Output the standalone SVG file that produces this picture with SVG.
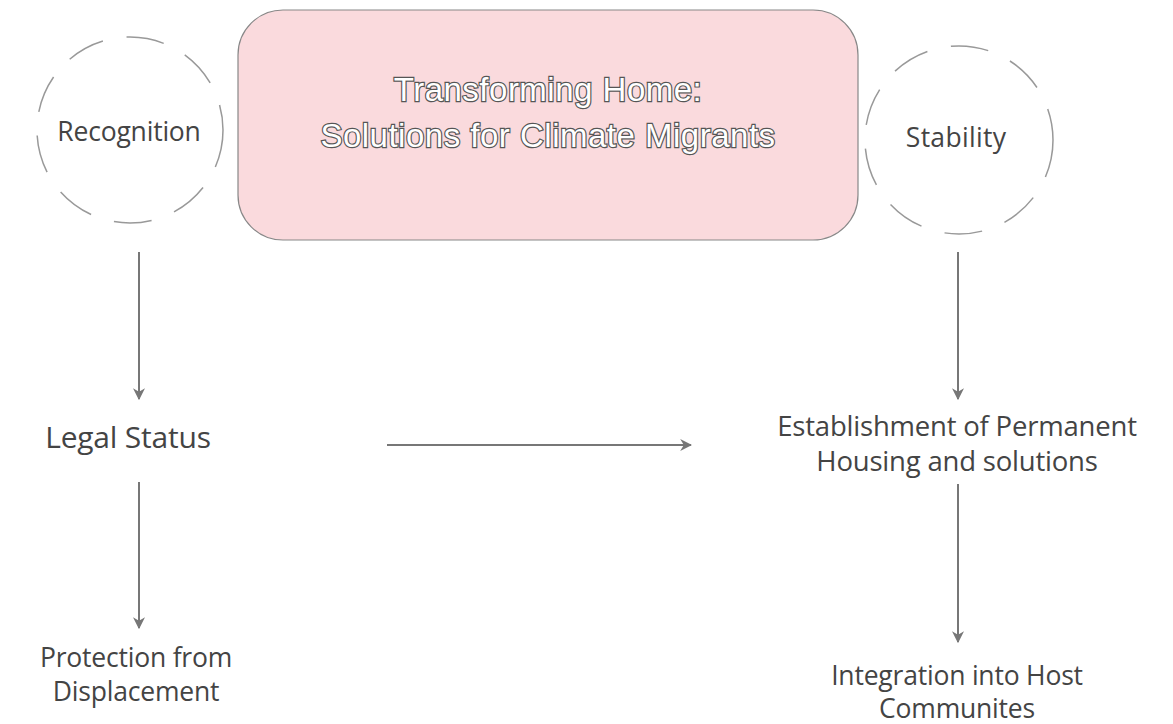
<svg xmlns="http://www.w3.org/2000/svg" width="1173" height="724" viewBox="0 0 1173 724">
<style>
.lbl{font-family:"Open Sans","Liberation Sans",sans-serif;font-size:26.5px;fill:#444;text-anchor:middle;letter-spacing:-0.2px}
.ring{fill:none;stroke:#999;stroke-width:1.5;stroke-dasharray:38 24}
.conn{stroke:#777;stroke-width:2;fill:none;marker-end:url(#ah)}
.title{font-family:"Liberation Sans",sans-serif;font-size:33px;fill:#fff;stroke:#555;stroke-width:2.4;paint-order:stroke fill;text-anchor:middle;letter-spacing:0.5px}
</style>
<defs>
<marker id="ah" viewBox="0 0 10 10" refX="9" refY="5" markerWidth="6" markerHeight="6" orient="auto" markerUnits="strokeWidth">
<path d="M0,0 L10,5 L0,10 L3,5 Z" fill="#777"/>
</marker>
</defs>
<rect width="1173" height="724" fill="#fff"/>
<g id="title-node">
<rect x="238" y="10" width="620" height="230" rx="45" fill="#fadadd" stroke="#888" stroke-width="1.2"/>
<text class="title" x="548" y="101">Transforming Home:</text>
<text class="title" x="548" y="147">Solutions for Climate Migrants</text>
</g>
<g id="recognition">
<circle class="ring" cx="130" cy="130" r="93"/>
<text class="lbl" x="129" y="141">Recognition</text>
</g>
<g id="stability">
<circle class="ring" cx="959" cy="140" r="94"/>
<text class="lbl" x="956" y="147" style="letter-spacing:0.3px">Stability</text>
</g>
<g id="legal-status">
<text class="lbl" x="128" y="448" style="font-size:30px">Legal Status</text>
</g>
<g id="protection">
<text class="lbl" x="136" y="667">Protection from</text>
<text class="lbl" x="136" y="701">Displacement</text>
</g>
<g id="establishment">
<text class="lbl" x="957" y="436" style="font-size:27.5px">Establishment of Permanent</text>
<text class="lbl" x="957" y="471" style="font-size:27.5px">Housing and solutions</text>
</g>
<g id="integration">
<text class="lbl" x="957" y="685">Integration into Host</text>
<text class="lbl" x="957" y="718">Communites</text>
</g>
<g id="connectors">
<line class="conn" x1="139" y1="252" x2="139" y2="399"/>
<line class="conn" x1="139" y1="482" x2="139" y2="628"/>
<line class="conn" x1="387" y1="445" x2="691" y2="445"/>
<line class="conn" x1="958" y1="252" x2="958" y2="399"/>
<line class="conn" x1="958" y1="484" x2="958" y2="642"/>
</g>
</svg>
